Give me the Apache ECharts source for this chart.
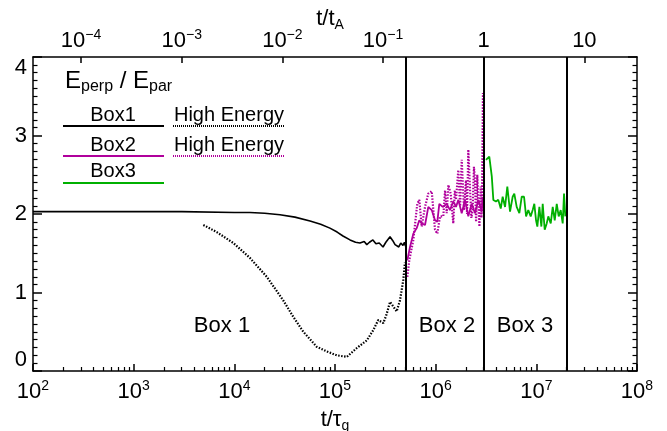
<!DOCTYPE html>
<html>
<head>
    <meta charset="utf-8">
    <title>E_perp / E_par</title>
    <script src="https://cdn.jsdelivr.net/npm/echarts@6/dist/echarts.min.js"></script>
    <style>
        html, body { margin: 0; padding: 0; background: #fff; }
        #chart { width: 667px; height: 431px; }
    </style>
</head>
<body>
<div id="chart"></div>
<script>
    // time in tau_g, ratio E_perp / E_par
    var box1T = [1e2, 3e2, 1e3, 3e3, 1e4, 1.43e4, 2.0e4, 2.84e4, 4.0e4, 5.65e4, 7.2e4, 8.9e4, 1.05e5, 1.2e5, 1.41e5,
        1.6e5, 1.77e5, 1.95e5, 2.07e5, 2.2e5, 2.38e5, 2.55e5, 2.75e5, 3.0e5, 3.2e5, 3.52e5, 3.75e5, 3.95e5, 4.1e5, 4.3e5,
        4.5e5, 4.73e5, 4.9e5, 5.0e5];
    var box1V = [2.03, 2.03, 2.03, 2.03, 2.02, 2.02, 2.01, 1.99, 1.96, 1.91, 1.87, 1.82, 1.77, 1.72, 1.67,
        1.64, 1.63, 1.65, 1.61, 1.64, 1.67, 1.62, 1.63, 1.58, 1.64, 1.71, 1.66, 1.61, 1.63, 1.58,
        1.63, 1.60, 1.64, 1.59];

    var box1HeT = [4.92e3, 6.68e3, 9.78e3, 1.43e4, 2.10e4, 3.06e4, 3.85e4, 4.84e4, 6.57e4, 8.26e4, 1.04e5, 1.31e5,
        1.64e5, 2.07e5, 2.40e5, 2.69e5, 3.02e5, 3.25e5, 3.52e5, 3.80e5, 4.10e5, 4.42e5, 4.77e5, 4.95e5];
    var box1HeV = [1.86, 1.77, 1.63, 1.44, 1.20, 0.90, 0.69, 0.50, 0.31, 0.25, 0.20, 0.18,
        0.29, 0.39, 0.52, 0.65, 0.61, 0.72, 0.88, 0.82, 0.76, 0.90, 1.16, 1.38];

    var box2T = [5.23e5, 5.56e5, 6.00e5, 6.48e5, 6.88e5, 7.26e5, 7.84e5, 8.45e5, 9.14e5, 9.85e5, 1.038e6, 1.087e6, 1.175e6,
        1.288e6, 1.388e6, 1.496e6, 1.592e6, 1.679e6, 1.815e6, 1.958e6, 2.11e6, 2.28e6, 2.46e6, 2.65e6, 2.87e6, 2.93e6];
    var box2V = [1.41, 1.58, 1.75, 1.82, 1.92, 1.88, 1.86, 2.09, 2.05, 1.92, 1.90, 2.13, 2.09,
        2.13, 2.05, 2.16, 2.09, 2.18, 2.01, 2.18, 1.97, 2.13, 2.01, 2.18, 2.03, 2.22];

    var box2HeT = [5.23e5, 5.47e5, 6.00e5, 6.57e5, 6.88e5, 7.26e5, 7.84e5, 8.45e5, 9.14e5, 9.85e5, 1.038e6, 1.105e6,
        1.191e6, 1.24e6, 1.288e6, 1.336e6, 1.41e6, 1.496e6, 1.55e6, 1.592e6, 1.679e6, 1.75e6, 1.815e6, 1.914e6,
        2.0e6, 2.05e6, 2.11e6, 2.19e6, 2.26e6, 2.33e6, 2.40e6, 2.46e6, 2.52e6, 2.59e6, 2.66e6, 2.72e6,
        2.80e6, 2.85e6, 2.88e6, 2.95e6, 2.97e6];
    var box2HeV = [1.20, 1.41, 1.67, 2.13, 2.18, 1.84, 2.09, 2.26, 2.29, 1.80, 1.75, 1.97,
        1.97, 2.30, 2.01, 2.37, 2.26, 1.88, 2.30, 2.18, 2.56, 2.10, 2.69, 2.05,
        2.43, 2.00, 2.82, 2.35, 1.95, 2.05, 2.60, 2.42, 1.90, 2.50, 2.10, 1.84,
        2.35, 1.95, 2.18, 3.54, 2.01];

    var box3T = [3.16e6, 3.41e6, 3.61e6, 3.74e6, 3.97e6, 4.19e6, 4.43e6, 4.63e6, 4.89e6, 5.15e6, 5.48e6, 5.82e6, 6.04e6,
        6.38e6, 6.78e6, 7.16e6, 7.55e6, 7.91e6, 8.32e6, 8.79e6, 9.20e6, 9.55e6, 9.93e6, 1.023e7, 1.072e7, 1.122e7,
        1.157e7, 1.211e7, 1.268e7, 1.315e7, 1.39e7, 1.455e7, 1.523e7, 1.595e7, 1.668e7, 1.746e7, 1.828e7, 1.884e7, 1.94e7];
    var box3V = [2.69, 2.73, 2.48, 2.18, 2.16, 2.18, 2.07, 2.22, 2.09, 2.35, 2.03, 2.22, 2.26,
        2.09, 2.01, 2.22, 2.22, 1.97, 2.05, 1.97, 2.05, 2.13, 1.92, 1.84, 2.09, 1.84,
        2.13, 1.80, 1.88, 1.97, 1.88, 2.09, 1.92, 2.13, 1.97, 2.05, 1.88, 2.26, 1.97];

    var tA = 3e6;                        // t_A in units of tau_g
    var boxEdges = [5e5, 3e6, 2e7];      // box boundaries
    var bottomTicks = [1e2, 1e3, 1e4, 1e5, 1e6, 1e7, 1e8];
    var topTicks = [1e-4, 1e-3, 1e-2, 1e-1, 1, 10];
    var boxNames = ['Box 1', 'Box 2', 'Box 3'];

    var FONT = 'Liberation Sans';
    var MAGENTA = '#b0009c';
    var GREEN = '#00b000';

    // 2..9 x 10^n minor ticks on the bottom axis
    var minorTicks = [];
    for (var n = 2; n < 8; n++) {
        for (var k = 2; k < 10; k++) minorTicks.push(k * Math.pow(10, n));
    }

    function zip(a, b) {
        return a.map(function (v, i) { return [v, b[i]]; });
    }

    function powLabel(v) {
        var e = Math.round(Math.log10(v));
        if (e === 0) return '{n|1}';
        if (e === 1) return '{n|10}';
        return '{n|10}{p|' + (e < 0 ? '\u2212' + (-e) : e) + '}';
    }

    var labelRich = {
        n: { fontFamily: FONT, fontSize: 22, color: '#000', lineHeight: 26 },
        p: { fontFamily: FONT, fontSize: 14, color: '#000', lineHeight: 14, verticalAlign: 'top' }
    };
    var nameRich = {
        n: { fontFamily: FONT, fontSize: 22, color: '#000', lineHeight: 26 },
        s: { fontFamily: FONT, fontSize: 14, color: '#000', lineHeight: 14, verticalAlign: 'bottom' }
    };

    var axisLine = { show: true, lineStyle: { color: '#000', width: 1.5 } };

    var myChart = echarts.init(document.getElementById('chart'));

    myChart.setOption({
        animation: false,
        backgroundColor: '#fff',
        grid: { left: 33, right: 30, top: 57, bottom: 60, outerBoundsMode: 'none' },
        xAxis: [
            {
                type: 'log', position: 'bottom', min: 1e2, max: 1e8,
                axisLine: axisLine,
                axisTick: { inside: true, length: 7, customValues: bottomTicks, lineStyle: { color: '#000', width: 1.5 } },
                axisLabel: { customValues: bottomTicks, margin: 8, formatter: powLabel, rich: labelRich },
                splitLine: { show: false },
                name: '{n|t/τ}{s|g}', nameLocation: 'middle', nameGap: 36,
                nameTextStyle: { rich: nameRich }
            },
            {
                type: 'log', position: 'bottom', min: 1e2, max: 1e8,
                axisLine: { show: false },
                axisTick: { inside: true, length: 4, customValues: minorTicks, lineStyle: { color: '#000', width: 1.2 } },
                axisLabel: { show: false },
                splitLine: { show: false }
            },
            {
                type: 'log', position: 'top', min: 1e2 / tA, max: 1e8 / tA,
                axisLine: axisLine,
                axisTick: { inside: true, length: 6, customValues: topTicks, lineStyle: { color: '#000', width: 1.5 } },
                axisLabel: { customValues: topTicks, margin: 3, formatter: powLabel, rich: labelRich },
                splitLine: { show: false }
            }
        ],
        yAxis: [
            {
                type: 'value', position: 'left', min: 0, max: 4, interval: 1,
                axisLine: axisLine,
                axisTick: { inside: true, length: 9, lineStyle: { color: '#000', width: 1.5 } },
                minorTick: { show: true, splitNumber: 10, length: 4.5, lineStyle: { color: '#000', width: 1.2 } },
                axisLabel: {
                    margin: 6, fontFamily: FONT, fontSize: 22, color: '#000',
                    verticalAlignMinLabel: 'bottom', verticalAlignMaxLabel: 'top'
                },
                splitLine: { show: false }
            },
            {
                type: 'value', position: 'right', min: 0, max: 4, interval: 1,
                axisLine: axisLine,
                axisTick: { inside: true, length: 9, lineStyle: { color: '#000', width: 1.5 } },
                minorTick: { show: true, splitNumber: 10, length: 4.5, lineStyle: { color: '#000', width: 1.2 } },
                axisLabel: { show: false },
                splitLine: { show: false }
            }
        ],
        series: [
            {
                name: 'Box1', type: 'line', xAxisIndex: 0, yAxisIndex: 0,
                data: zip(box1T, box1V), showSymbol: false, symbol: 'none',
                lineStyle: { color: '#000', width: 1.6 },
                markLine: {
                    silent: true, symbol: 'none', label: { show: false },
                    lineStyle: { color: '#000', width: 2, type: 'solid' },
                    data: boxEdges.map(function (v) { return { xAxis: v }; })
                }
            },
            {
                name: 'Box1 High Energy', type: 'line', xAxisIndex: 0, yAxisIndex: 0,
                data: zip(box1HeT, box1HeV), showSymbol: false, symbol: 'none',
                lineStyle: { color: '#000', width: 2.2, type: [1.5, 1.5] }
            },
            {
                name: 'Box2', type: 'line', xAxisIndex: 0, yAxisIndex: 0,
                data: zip(box2T, box2V), showSymbol: false, symbol: 'none',
                lineStyle: { color: MAGENTA, width: 1.8 }
            },
            {
                name: 'Box2 High Energy', type: 'line', xAxisIndex: 0, yAxisIndex: 0,
                data: zip(box2HeT, box2HeV), showSymbol: false, symbol: 'none',
                lineStyle: { color: MAGENTA, width: 2.2, type: [1.5, 1.5] }
            },
            {
                name: 'Box3', type: 'line', xAxisIndex: 0, yAxisIndex: 0,
                data: zip(box3T, box3V), showSymbol: false, symbol: 'none',
                lineStyle: { color: GREEN, width: 1.8 }
            }
        ],
        graphic: [
            // top axis name
            {
                type: 'text', x: 330, y: 19,
                style: { text: '{n|t/t}{s|A}', align: 'center', verticalAlign: 'middle', rich: nameRich }
            },
            // title
            {
                type: 'text', x: 65, y: 81,
                style: {
                    text: '{b|E}{s|perp}{b| / E}{s|par}',
                    textVerticalAlign: 'middle',
                    rich: {
                        b: { fontFamily: FONT, fontSize: 24, fill: '#000', lineHeight: 28 },
                        s: { fontFamily: FONT, fontSize: 16, fill: '#000', lineHeight: 16, verticalAlign: 'bottom' }
                    }
                }
            },
            // legend
            { type: 'text', x: 113, y: 115, style: { text: 'Box1', font: '20px ' + FONT, fill: '#000', align: 'center', verticalAlign: 'middle' } },
            { type: 'line', shape: { x1: 63, y1: 126, x2: 164, y2: 126 }, style: { stroke: '#000', lineWidth: 2 } },
            { type: 'text', x: 229, y: 115, style: { text: 'High Energy', font: '20px ' + FONT, fill: '#000', align: 'center', verticalAlign: 'middle' } },
            { type: 'line', shape: { x1: 173, y1: 126, x2: 285, y2: 126 }, style: { stroke: '#000', lineWidth: 2, lineDash: [1, 1] } },
            { type: 'text', x: 113, y: 145, style: { text: 'Box2', font: '20px ' + FONT, fill: '#000', align: 'center', verticalAlign: 'middle' } },
            { type: 'line', shape: { x1: 63, y1: 156, x2: 164, y2: 156 }, style: { stroke: MAGENTA, lineWidth: 2 } },
            { type: 'text', x: 229, y: 145, style: { text: 'High Energy', font: '20px ' + FONT, fill: '#000', align: 'center', verticalAlign: 'middle' } },
            { type: 'line', shape: { x1: 173, y1: 156, x2: 285, y2: 156 }, style: { stroke: MAGENTA, lineWidth: 2, lineDash: [1, 1] } },
            { type: 'text', x: 113, y: 171, style: { text: 'Box3', font: '20px ' + FONT, fill: '#000', align: 'center', verticalAlign: 'middle' } },
            { type: 'line', shape: { x1: 63, y1: 183, x2: 164, y2: 183 }, style: { stroke: GREEN, lineWidth: 2 } },
            // box region labels
            { type: 'text', x: 222, y: 326, style: { text: boxNames[0], font: '22px ' + FONT, fill: '#000', align: 'center', verticalAlign: 'middle' } },
            { type: 'text', x: 447, y: 326, style: { text: boxNames[1], font: '22px ' + FONT, fill: '#000', align: 'center', verticalAlign: 'middle' } },
            { type: 'text', x: 525, y: 326, style: { text: boxNames[2], font: '22px ' + FONT, fill: '#000', align: 'center', verticalAlign: 'middle' } }
        ]
    });
</script>
</body>
</html>
